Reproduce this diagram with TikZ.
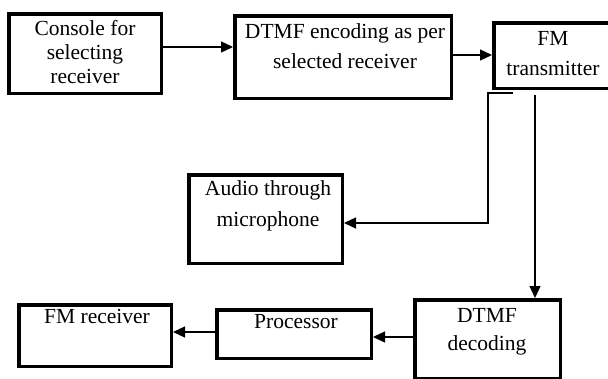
\documentclass[tikz,border=0pt]{standalone}
\usepackage{fontspec}
\setmainfont{Liberation Serif}
\usetikzlibrary{arrows.meta}
\tikzset{
  blk/.style={draw=black, line width=3.5pt, inner sep=0pt, fill=white},
  txt/.style={anchor=base, align=center, inner sep=0pt},
  conn/.style={draw=black, line width=1.3pt},
  arr/.style={conn, -{Triangle[length=12pt,width=11pt]}},
}
\newcommand{\fs}[1]{\fontsize{21.5}{#1}\selectfont}
\begin{document}
\begin{tikzpicture}[x=1pt,y=-1pt]
\useasboundingbox (0,0) rectangle (608,378);
\clip (0,0) rectangle (608,378);

% blocks
\node[blk, minimum width=152.5pt, minimum height=79.5pt] (console) at (85,53.5) {};
\node[blk, minimum width=216.5pt, minimum height=82.5pt] (enc) at (343,57) {};
\node[blk, minimum width=116.5pt, minimum height=65.5pt] (fm) at (552,55.5) {};
\node[blk, minimum width=153.5pt, minimum height=88.5pt] (audio) at (265.5,219) {};
\node[blk, minimum width=152.5pt, minimum height=61.5pt] (recv) at (95,335.5) {};
\node[blk, minimum width=154.5pt, minimum height=48.5pt] (proc) at (294,334) {};
\node[blk, minimum width=145.5pt, minimum height=78.5pt] (dec) at (487.5,339) {};

% block texts (anchored at the baseline of the last line)
\node[txt, font=\fs{24}] (consoleT) at (85,83) {Console for\\selecting\\receiver};
\node[txt, font=\fs{30}] (encT) at (345,68) {DTMF encoding as per\\selected receiver};
\node[txt, font=\fs{30}] (fmT) at (553,75) {FM\\transmitter};
\node[txt, font=\fs{31}] (audioT) at (268,226) {Audio through\\microphone};
\node[txt, font=\fs{25}] (recvT) at (97,323) {FM receiver};
\node[txt, font=\fs{25}] (procT) at (296,328) {Processor};
\node[txt, font=\fs{28}] (decT) at (487,350) {DTMF\\decoding};

% connectors
\draw[arr] ([yshift=6.5pt]console.east) -- ([yshift=6.5pt]console.east -| enc.west);
\draw[arr] ([yshift=2pt]enc.east) -- ([yshift=2pt]enc.east -| fm.west);

\coordinate (tapA) at ([xshift=21pt,yshift=-3pt]fm.south west);
\coordinate (tapB) at ([xshift=-17pt,yshift=-5pt]fm.south);
\draw[arr] (tapA) -- ++(-25,0) |- ([yshift=-4pt]audio.east);
\draw[arr] (tapB) -- (tapB |- dec.north);

\draw[arr] ([yshift=2pt]dec.west) -- ([yshift=2pt]dec.west -| proc.east);
\draw[arr] ([yshift=2pt]proc.west) -- ([yshift=2pt]proc.west -| recv.east);
\end{tikzpicture}
\end{document}
